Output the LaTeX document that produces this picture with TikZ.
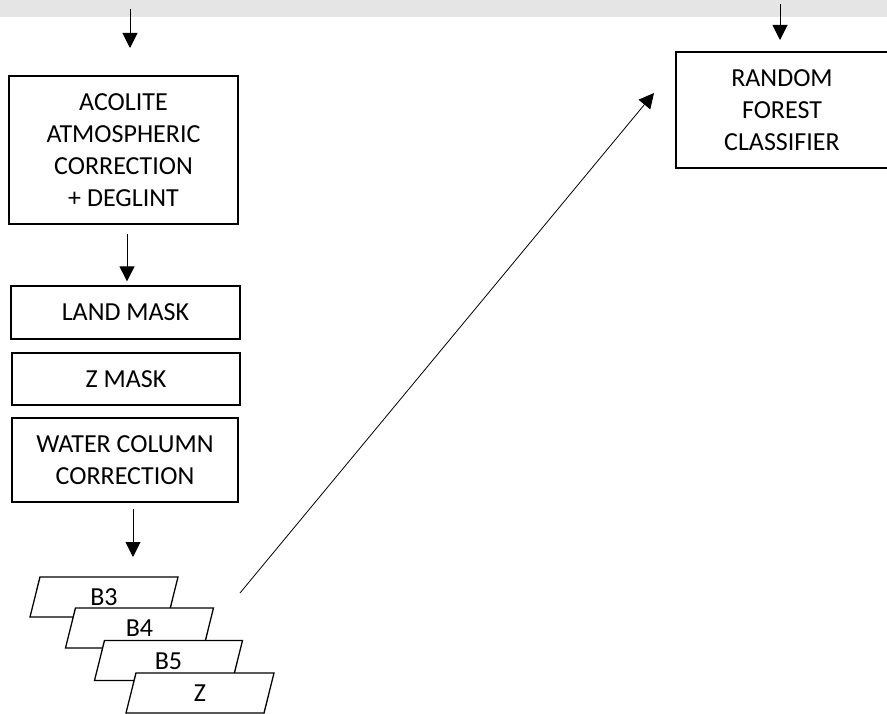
\documentclass[tikz,border=0pt]{standalone}
\usepackage{fontspec}
\setmainfont{Carlito}
\usetikzlibrary{arrows.meta,shapes.geometric}

\tikzset{
  procbox/.style={draw, line width=1.3pt, inner sep=0pt, align=center},
  bandbox/.style={draw, line width=1.3pt, fill=white, trapezium,
    trapezium left angle=76, trapezium right angle=104,
    trapezium stretches body, minimum width=148pt,
    text height=17pt, text depth=0pt, inner xsep=0pt, inner ysep=11.5pt},
  flow/.style={-{Triangle[length=15pt,width=15pt]}, line width=1pt},
}

\begin{document}
\begin{tikzpicture}[x=1pt, y=-1pt, font=\fontsize{26}{32}\selectfont]
  \useasboundingbox (0,0) rectangle (887,714);
  \clip (0,0) rectangle (887,714);

  % Grey strip left over from the part above
  \fill[black!10] (0,0) rectangle (887,17);

  % Processing chain on the left
  \node[procbox, minimum width=229pt, minimum height=148pt] (acolite) at (123.5,150)
    {ACOLITE\\ATMOSPHERIC\\CORRECTION\\+ DEGLINT};
  \node[procbox, minimum width=229pt, minimum height=53pt] (landmask) at (125.5,312.5) {LAND MASK};
  \node[procbox, minimum width=228pt, minimum height=52pt] (zmask) at (126,379) {Z MASK};
  \node[procbox, minimum width=226pt, minimum height=84pt] (watercol) at (125,460)
    {WATER COLUMN\\CORRECTION};

  % Stack of bands
  \node[bandbox] (bthree) at (104,597) {B3};
  \node[bandbox] (bfour) at (139.5,628) {B4};
  \node[bandbox] (bfive) at (168.5,660.5) {B5};
  \node[bandbox] (bz) at (200,693) {Z};

  % Classifier on the right (runs off the page edge)
  \node[procbox, minimum width=212pt, minimum height=116pt] (rf) at (782,110)
    {RANDOM\\FOREST\\CLASSIFIER};

  % Arrows
  \coordinate (lefttop) at (130,9);
  \coordinate (leftin) at (130,48);
  \coordinate (righttop) at (780,4);
  \coordinate (rightin) at (780,40);
  \coordinate (stackin) at (133,557);
  \coordinate (stackout) at (240,593);
  \coordinate (rfin) at (654,93);
  \draw[flow] (lefttop) -- (leftin);
  \draw[flow] (righttop) -- (rightin);
  \draw[flow, shorten <=9pt, shorten >=4pt] ([xshift=3.5pt]acolite.south) -- ([xshift=1.5pt]landmask.north);
  \draw[flow, shorten <=6pt] ([xshift=8pt]watercol.south) -- (stackin);
  \draw[flow, line width=0.8pt] (stackout) -- (rfin);
\end{tikzpicture}
\end{document}
